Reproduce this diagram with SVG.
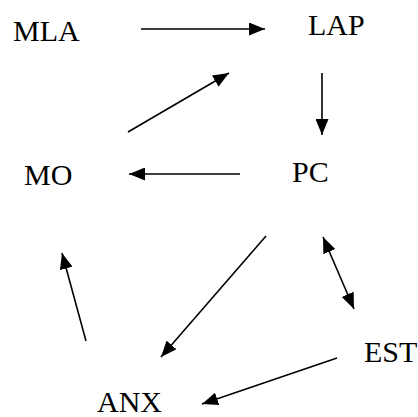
<svg xmlns="http://www.w3.org/2000/svg" width="418" height="417" viewBox="0 0 418 417">
<style>
.t{font-family:'Liberation Serif','Times New Roman',serif;font-size:30px;fill:#000}
.c line{stroke:#000;stroke-width:1.6;fill:none}
</style>
<defs>
<marker id="ah" markerWidth="16" markerHeight="13" refX="16" refY="6.5" orient="auto-start-reverse" markerUnits="userSpaceOnUse">
<path d="M0,0 L16,6.5 L0,13 Z" fill="#000"/>
</marker>
</defs>
<rect width="418" height="417" fill="#fff"/>
<g class="c" id="connectors">
<line x1="141" y1="29" x2="265" y2="29" marker-end="url(#ah)"/>
<line x1="322" y1="73" x2="322" y2="135" marker-end="url(#ah)"/>
<line x1="128" y1="132" x2="229" y2="73" marker-end="url(#ah)"/>
<line x1="240" y1="174" x2="129" y2="174" marker-end="url(#ah)"/>
<line x1="266" y1="236" x2="161" y2="357" marker-end="url(#ah)"/>
<line x1="86" y1="341" x2="62" y2="253" marker-end="url(#ah)"/>
<line x1="323" y1="237" x2="354" y2="309" marker-start="url(#ah)" marker-end="url(#ah)"/>
<line x1="337" y1="358" x2="202" y2="404" marker-end="url(#ah)"/>
</g>
<g id="MLA"><text class="t" x="13" y="41">MLA</text></g>
<g id="LAP"><text class="t" x="308" y="35">LAP</text></g>
<g id="MO"><text class="t" x="24" y="185">MO</text></g>
<g id="PC"><text class="t" x="292" y="182">PC</text></g>
<g id="EST"><text class="t" x="364" y="362">EST</text></g>
<g id="ANX"><text class="t" x="97" y="412">ANX</text></g>
</svg>
